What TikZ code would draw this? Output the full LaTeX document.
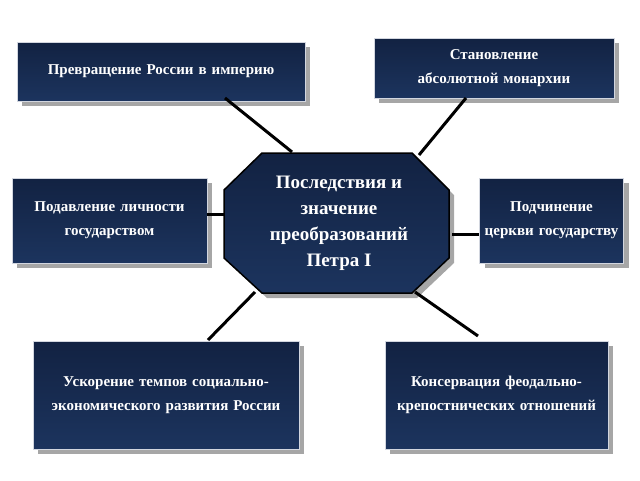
\documentclass[tikz,border=0pt]{standalone}
\usepackage{fontspec}
\setmainfont{Liberation Serif}
\usetikzlibrary{shadows}
\definecolor{navy}{RGB}{28,52,94}
\definecolor{navydark}{RGB}{18,34,66}
\begin{document}
\begin{tikzpicture}[x=1pt,y=-1pt,
  box/.style={draw=white!80!navy, line width=0.8pt, top color=navydark, bottom color=navy,
    text=white, font=\bfseries\fontsize{15}{24}\selectfont, align=center,
    inner sep=2pt, drop shadow={shadow xshift=5pt, shadow yshift=-5pt, fill=black!35, opacity=1}},
  link/.style={line width=3pt, black}]
\useasboundingbox (0,0) rectangle (640,480);

\node[box, minimum width=288, minimum height=59, text width=270] (rus) at (161,71.5) {Превращение России в империю};
\node[box, minimum width=240, minimum height=60, text width=230] (abs) at (494,68) {Становление абсолютной монархии};
\node[box, minimum width=195, minimum height=85, text width=185] (lich) at (109.5,220.5) {Подавление личности государством};
\node[box, minimum width=143, minimum height=85, text width=140] (cerk) at (551.5,220.5) {Подчинение церкви государству};
\node[box, minimum width=266, minimum height=108, text width=260] (temp) at (166,395) {Ускорение темпов социально-экономического развития России};
\node[box, minimum width=223, minimum height=108, text width=215] (kons) at (496.5,395) {Консервация феодально-крепостнических отношений};

\fill[black!35] (267,158) -- (417,158) -- (454,195) -- (454,263) -- (417,298) -- (267,298) -- (229,263) -- (229,195) -- cycle;
\draw[line width=1.5pt, black, top color=navydark, bottom color=navy] (262,153) -- (412,153) -- (449,190) -- (449,258) -- (412,293) -- (262,293) -- (224,258) -- (224,190) -- cycle;
\node[text=white, font=\bfseries\fontsize{19}{26}\selectfont, align=center] (core) at (339,223) {Последствия и\\значение\\преобразований\\Петра I};

\coordinate (c1) at (292,152);
\coordinate (c2) at (419,155);
\coordinate (c3) at (224,214);
\coordinate (c4) at (452,234);
\coordinate (c5) at (255,292);
\coordinate (c6) at (415,292);
\draw[link] (225,98) -- (c1);
\draw[link] (466,98) -- (c2);
\draw[link] (lich.east |- c3) -- (c3);
\draw[link] (c4) -- (cerk.west |- c4);
\draw[link] (c5) -- (208,340);
\draw[link] (c6) -- (478,336);
\end{tikzpicture}
\end{document}
